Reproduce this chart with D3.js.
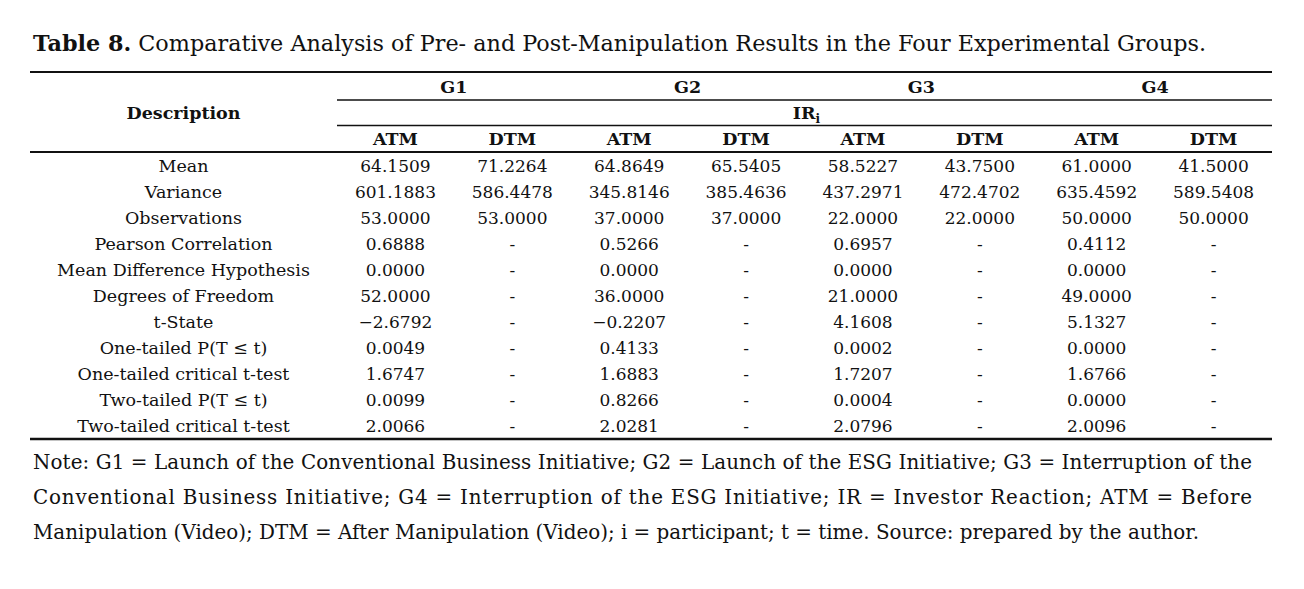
<!DOCTYPE html>
<html>
<head>
<meta charset="utf-8">
<script src="https://cdn.jsdelivr.net/npm/d3@7"></script>
<style>
  html, body { margin: 0; padding: 0; background: #fff; }
  svg text { font-family: "DejaVu Serif", serif; fill: #111; }
</style>
</head>
<body>
<div id="chart"></div>
<script>
// data

const groups = ["G1", "G2", "G3", "G4"];
const subCols = ["ATM", "DTM"];
const rowLabels = [
  "Mean", "Variance", "Observations", "Pearson Correlation",
  "Mean Difference Hypothesis", "Degrees of Freedom", "t-State",
  "One-tailed P(T \u2264 t)", "One-tailed critical t-test",
  "Two-tailed P(T \u2264 t)", "Two-tailed critical t-test"
];

const g1ATM = [64.1509, 601.1883, 53, 0.6888, 0, 52, -2.6792, 0.0049, 1.6747, 0.0099, 2.0066];
const g1DTM = [71.2264, 586.4478, 53, null, null, null, null, null, null, null, null];
const g2ATM = [64.8649, 345.8146, 37, 0.5266, 0, 36, -0.2207, 0.4133, 1.6883, 0.8266, 2.0281];
const g2DTM = [65.5405, 385.4636, 37, null, null, null, null, null, null, null, null];
const g3ATM = [58.5227, 437.2971, 22, 0.6957, 0, 21, 4.1608, 0.0002, 1.7207, 0.0004, 2.0796];
const g3DTM = [43.7500, 472.4702, 22, null, null, null, null, null, null, null, null];
const g4ATM = [61.0000, 635.4592, 50, 0.4112, 0, 49, 5.1327, 0.0000, 1.6766, 0.0000, 2.0096];
const g4DTM = [41.5000, 589.5408, 50, null, null, null, null, null, null, null, null];

const titleBold = "Table 8.";
const titleRest = " Comparative Analysis of Pre- and Post-Manipulation Results in the Four Experimental Groups.";
const noteLines = [
  "Note: G1 = Launch of the Conventional Business Initiative; G2 = Launch of the ESG Initiative; G3 = Interruption of the",
  "Conventional Business Initiative; G4 = Interruption of the ESG Initiative; IR = Investor Reaction; ATM = Before",
  "Manipulation (Video); DTM = After Manipulation (Video); i = participant; t = time. Source: prepared by the author."
];

// config

const width = 1304;
const height = 589;
const tableLeft = 30;
const tableRight = 1272;
const dataLeft = 337;
const headerBottom = 152;
const tableBottom = 439;

const columns = [];
const colValues = [g1ATM, g1DTM, g2ATM, g2DTM, g3ATM, g3DTM, g4ATM, g4DTM];
groups.forEach((g, gi) => {
  subCols.forEach((s, si) => {
    columns.push({ key: g + s, group: g, sub: s, values: colValues[gi * 2 + si] });
  });
});

// scales

const xScale = d3.scaleBand()
  .domain(columns.map(d => d.key))
  .range([dataLeft, tableRight]);

const groupScale = d3.scaleBand()
  .domain(groups)
  .range([dataLeft, tableRight]);

const yScale = d3.scaleBand()
  .domain(rowLabels)
  .range([headerBottom + 1, tableBottom]);

const fmt = d3.format(".4f");

// svg output

const svg = d3.select("#chart")
  .append("svg")
  .attr("width", width)
  .attr("height", height)
  .attr("viewBox", [0, 0, width, height]);

svg.append("rect")
  .attr("width", width)
  .attr("height", height)
  .attr("fill", "#fff");

// title

const title = svg.append("text")
  .attr("x", 33)
  .attr("y", 51)
  .style("font-size", "22.3px");
title.append("tspan").style("font-weight", "bold").text(titleBold);
title.append("tspan").text(titleRest);

// rules

const rule = (x1, x2, y, w) => svg.append("line")
  .attr("x1", x1).attr("x2", x2)
  .attr("y1", y).attr("y2", y)
  .attr("stroke", "#111")
  .attr("stroke-width", w);

rule(tableLeft, tableRight, 72, 2.2);
rule(dataLeft, tableRight, 100, 1.5);
rule(dataLeft, tableRight, 125.5, 1.5);
rule(tableLeft, tableRight, headerBottom, 2);
rule(tableLeft, tableRight, tableBottom, 2.4);

// header

svg.append("text")
  .attr("x", (tableLeft + dataLeft) / 2)
  .attr("y", 119)
  .attr("text-anchor", "middle")
  .style("font-size", "17.5px")
  .style("font-weight", "bold")
  .text("Description");

svg.selectAll("text.group")
  .data(groups)
  .join("text")
  .attr("class", "group")
  .attr("x", d => groupScale(d) + groupScale.bandwidth() / 2)
  .attr("y", 93)
  .attr("text-anchor", "middle")
  .style("font-size", "17.5px")
  .style("font-weight", "bold")
  .text(d => d);

const ir = svg.append("text")
  .attr("x", (dataLeft + tableRight) / 2 + 2)
  .attr("y", 119)
  .attr("text-anchor", "middle")
  .style("font-size", "17.5px")
  .style("font-weight", "bold");
ir.append("tspan").text("IR");
ir.append("tspan").attr("dy", 4).style("font-size", "12px").text("i");

svg.selectAll("text.sub")
  .data(columns)
  .join("text")
  .attr("class", "sub")
  .attr("x", d => xScale(d.key) + xScale.bandwidth() / 2)
  .attr("y", 145)
  .attr("text-anchor", "middle")
  .style("font-size", "17.5px")
  .style("font-weight", "bold")
  .text(d => d.sub);

// body

svg.selectAll("text.rowLabel")
  .data(rowLabels)
  .join("text")
  .attr("class", "rowLabel")
  .attr("x", (tableLeft + dataLeft) / 2)
  .attr("y", d => yScale(d) + yScale.bandwidth() / 2 + 6)
  .attr("text-anchor", "middle")
  .style("font-size", "17.5px")
  .text(d => d);

const cells = [];
columns.forEach(c => {
  c.values.forEach((v, i) => cells.push({ key: c.key, row: rowLabels[i], value: v }));
});

svg.selectAll("text.cell")
  .data(cells)
  .join("text")
  .attr("class", "cell")
  .attr("x", d => xScale(d.key) + xScale.bandwidth() / 2)
  .attr("y", d => yScale(d.row) + yScale.bandwidth() / 2 + 6)
  .attr("text-anchor", "middle")
  .style("font-size", "17px")
  .text(d => d.value === null ? "-" : fmt(d.value));

// note

svg.selectAll("text.note")
  .data(noteLines)
  .join("text")
  .attr("class", "note")
  .attr("x", 33)
  .attr("y", (d, i) => 469 + i * 35)
  .style("font-size", "19.9px")
  .each(function (d, i) {
    if (i < noteLines.length - 1) {
      d3.select(this)
        .attr("textLength", 1252 - 33)
        .attr("lengthAdjust", "spacing");
    }
  })
  .text(d => d);
</script>
</body>
</html>
